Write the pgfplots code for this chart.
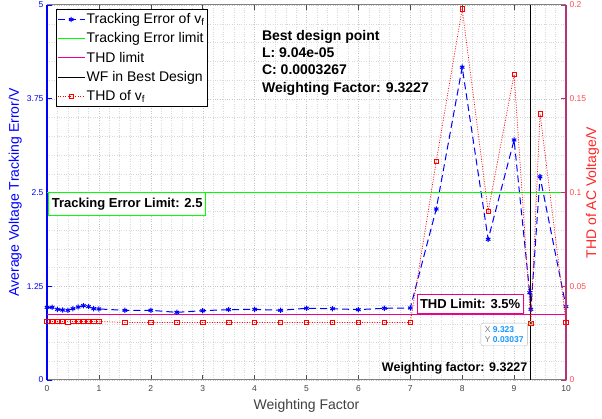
\documentclass[border=0pt]{standalone}
\usepackage{pgfplots}
\pgfplotsset{compat=1.18}
\usepackage{pgfplotstable}
\usepackage{fontspec}
\setmainfont{Liberation Sans}
\definecolor{rax}{rgb}{0.72,0.2,0.45}
\definecolor{rtick}{rgb}{1,0.3,0.3}
\definecolor{tipblue}{rgb}{0.1,0.6,1}
\definecolor{xgray}{rgb}{0.25,0.25,0.25}

\pgfplotstableread{
x y
0 0.969
0.1 0.969
0.2 0.942
0.3 0.933
0.4 0.929
0.5 0.951
0.6 0.973
0.7 0.991
0.8 0.978
0.9 0.951
1.0 0.947
1.5 0.929
2 0.929
2.5 0.902
3 0.924
3.5 0.938
4 0.942
4.5 0.929
5 0.956
5.5 0.951
6 0.938
6.5 0.956
7 0.960
7.5 2.28
8 4.17
8.5 1.876
9 3.2
9.3 1.164
9.3227 0.942
9.5 2.71
10 0.978
}\errtable

\pgfplotstableread{
x y
0 0.0312
0.1 0.0312
0.2 0.0312
0.3 0.0312
0.4 0.0311
0.5 0.0312
0.6 0.0312
0.7 0.0312
0.8 0.0312
0.9 0.0312
1.0 0.0312
1.5 0.0307
2 0.0307
2.5 0.0307
3 0.0307
3.5 0.0307
4 0.0307
4.5 0.0307
5 0.0307
5.5 0.0307
6 0.0307
6.5 0.0307
7 0.0307
7.5 0.1166
8 0.198
8.5 0.090
9 0.163
9.3227 0.03037
9.5 0.142
10 0.0307
}\thdtable

\pgfplotsset{
  legend image code/.code={%
    \draw[mark repeat=2,mark phase=2,#1] plot coordinates {(0pt,0pt) (13.5pt,0pt) (27pt,0pt)};
  }
}

\begin{document}
\begin{tikzpicture}
\useasboundingbox (-47pt,-39pt) rectangle (555pt,380pt);
\begin{axis}[
  scale only axis, width=519pt, height=375pt,
  xmin=0, xmax=10, ymin=0, ymax=5,
  clip=false,
  axis x line=box, axis y line=left,
  x axis line style={gray, line width=1pt, -},
  y axis line style={blue, line width=1.3pt, -},
  xtick={0,1,...,10},
  ytick={0,1.25,2.5,3.75,5},
  yticklabels={0,1.25,2.5,3.75,5},
  scaled y ticks=false,
  minor x tick num=4, minor y tick num=4,
  grid=both,
  major grid style={dotted, gray!45},
  minor grid style={dotted, gray!30},
  tick align=inside, major tick length=5pt, minor tick length=0pt,
  x tick style={gray!60!black, line width=0.6pt},
  y tick style={blue, line width=0.6pt},
  /pgf/number format/assume math mode=true,
  ticklabel style={font=\fontsize{8.5}{10}\selectfont},
  xticklabel style={text=xgray, yshift=-2pt},
  yticklabel style={text=blue},
  xlabel={Weighting Factor},
  ylabel={Average Voltage Tracking Error/V},
  label style={font=\fontsize{14}{16}\selectfont},
  xlabel style={at={(axis description cs:0.5,0)}, anchor=base, yshift=-30pt, text=xgray},
  ylabel style={at={(axis description cs:0,0.5)}, anchor=base, yshift=28pt, text=blue},
  legend style={at={(axis description cs:0,1)}, anchor=north west, xshift=9pt, yshift=-4pt,
    draw=black, fill=white, font=\fontsize{14}{16}\selectfont,
    inner xsep=1pt, inner ysep=3pt, row sep=4.5pt,
    nodes={inner sep=1.5pt}},
  legend cell align=left,
]
\addplot[blue, line width=1pt, dash pattern=on 7pt off 4pt,
  mark=asterisk, mark size=2.6pt, mark options={solid, line width=1pt}]
  table[x=x,y=y]{\errtable};
\addlegendentry{Tracking Error of v\textsubscript{f}}
\addplot[green, line width=1pt] coordinates {(0,2.5) (10,2.5)};
\addlegendentry{Tracking Error limit}
\addplot[magenta, line width=1pt] coordinates {(0,0.875) (10,0.875)};
\addlegendentry{THD limit}
\addplot[black, line width=0.8pt] coordinates {(9.3227,0) (9.3227,5)};
\addlegendentry{WF in Best Design}
\addlegendimage{red, dash pattern=on 1pt off 1.5pt, mark=square, mark size=2.2pt, mark options={solid, draw=red}}
\addlegendentry{THD of v\textsubscript{f}}

\node[draw=green, line width=1pt, fill=white, anchor=north west, inner xsep=3pt, inner ysep=5pt,
  font=\bfseries\fontsize{13}{15}\selectfont] at (axis cs:0.025,2.5) {Tracking Error Limit: 2.5};
\node[draw=magenta, line width=1pt, fill=white, anchor=south west, inner xsep=3pt, inner ysep=5pt,
  font=\bfseries\fontsize{13}{15}\selectfont] at (axis cs:7.12,0.875) {THD Limit: 3.5\%};
\node[anchor=base east, inner sep=0pt, font=\bfseries\fontsize{12.5}{14}\selectfont]
  at (axis cs:9.26,0.11) {Weighting factor: 9.3227};
\node[anchor=base west, inner sep=0pt, font=\bfseries\fontsize{14}{16}\selectfont]
  at (axis cs:4.14,4.524) {Best design point};
\node[anchor=base west, inner sep=0pt, font=\bfseries\fontsize{14}{16}\selectfont]
  at (axis cs:4.14,4.303) {L: 9.04e-05};
\node[anchor=base west, inner sep=0pt, font=\bfseries\fontsize{14}{16}\selectfont]
  at (axis cs:4.14,4.067) {C: 0.0003267};
\node[anchor=base west, inner sep=0pt, font=\bfseries\fontsize{14}{16}\selectfont]
  at (axis cs:4.14,3.831) {Weighting Factor: 9.3227};
\node[draw=gray!55, rounded corners=2pt, fill=white, anchor=north west, inner xsep=4pt, inner ysep=3pt,
  align=left, font=\fontsize{8.5}{10.5}\selectfont]
  at (axis cs:8.356,0.76) {\textcolor{gray}{X} \textcolor{tipblue}{\bfseries 9.323}\\\textcolor{gray}{Y} \textcolor{tipblue}{\bfseries 0.03037}};
\end{axis}

\begin{axis}[
  scale only axis, width=519pt, height=375pt,
  xmin=0, xmax=10, ymin=0, ymax=0.2,
  clip=false,
  axis x line=none, axis y line=right,
  y axis line style={rax, line width=1.3pt, -},
  ytick={0,0.05,0.1,0.15,0.2},
  yticklabels={0,0.05,0.1,0.15,0.2},
  scaled y ticks=false,
  tick align=inside, major tick length=5pt,
  y tick style={rax, line width=0.8pt},
  /pgf/number format/assume math mode=true,
  yticklabel style={text=rtick, font=\fontsize{8.5}{10}\selectfont},
  ylabel={THD of AC Voltage/V},
  ylabel style={at={(axis description cs:1,0.5)}, anchor=base, yshift=-30pt, text=red!85!white,
    font=\fontsize{14}{16}\selectfont},
]
\addplot[red, dash pattern=on 1pt off 1.5pt, line width=0.7pt,
  mark=square, mark size=2.2pt, mark options={solid, draw=red, line width=0.7pt}]
  table[x=x,y=y]{\thdtable};
\addplot[only marks, mark=*, mark size=1.8pt, mark options={fill=black, draw=orange!50, line width=0.8pt}]
  coordinates {(9.3227,0.03037)};
\end{axis}
\end{tikzpicture}
\end{document}
